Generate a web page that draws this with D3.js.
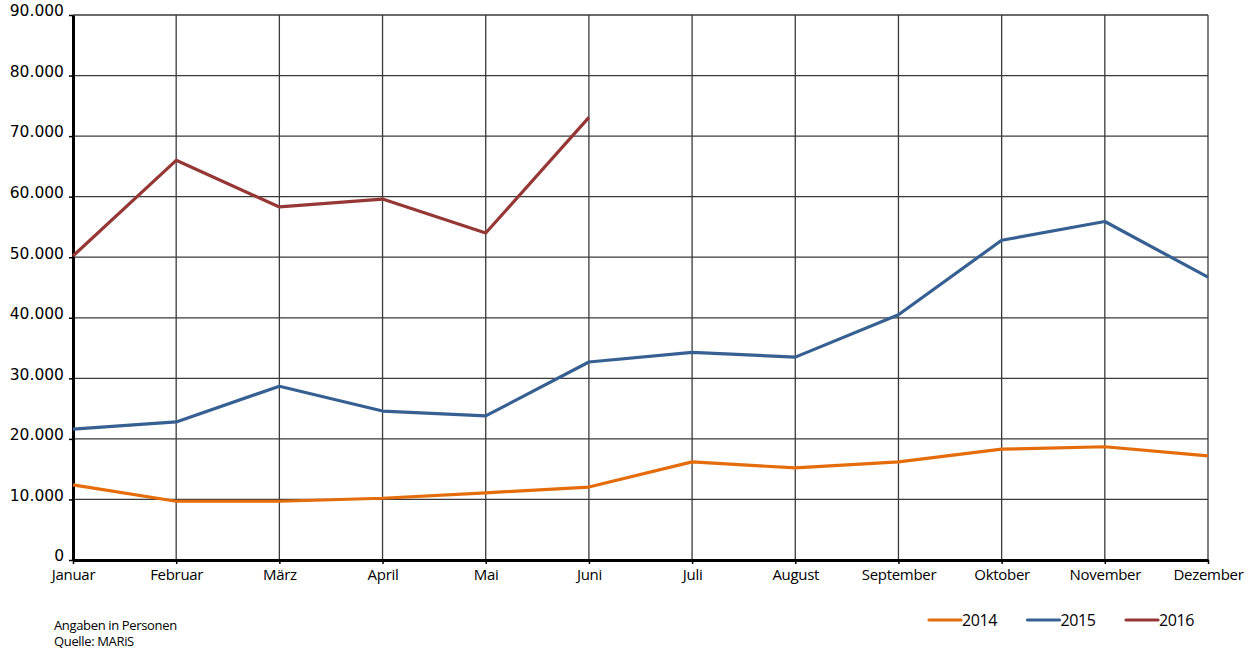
<!DOCTYPE html>
<html>
<head>
<meta charset="utf-8">
<script src="https://cdn.jsdelivr.net/npm/d3@7"></script>
<style>
  body { margin: 0; background: #fff; }
  svg { display: block; }
</style>
</head>
<body>
<svg id="chart"></svg>
<script>
// Monthly values
const months = ["Januar", "Februar", "März", "April", "Mai", "Juni", "Juli", "August", "September", "Oktober", "November", "Dezember"];
const values2014 = [12400, 9700, 9700, 10200, 11100, 12050, 16200, 15200, 16200, 18300, 18700, 17200];
const values2015 = [21600, 22800, 28700, 24600, 23800, 32700, 34300, 33500, 40500, 52800, 55900, 46700];
const values2016 = [50200, 66000, 58300, 59600, 54000, 73100];
const yTicks = [0, 10000, 20000, 30000, 40000, 50000, 60000, 70000, 80000, 90000];
const seriesNames = ["2014", "2015", "2016"];
const seriesColors = ["#e46c0a", "#376092", "#953735"];

const svgWidth = 1259;
const svgHeight = 649;
const margin = { top: 15, right: 51, bottom: 89, left: 73 };
const width = svgWidth - margin.left - margin.right;
const height = svgHeight - margin.top - margin.bottom;

const svg = d3.select("#chart")
    .attr("width", svgWidth)
    .attr("height", svgHeight);

const chart = svg.append("g")
    .attr("transform", `translate(${margin.left},${margin.top})`);

const xScale = d3.scalePoint()
    .domain(months)
    .range([0, width]);

const yScale = d3.scaleLinear()
    .domain([0, 90000])
    .range([height, 0]);

const fmt = d => d === 0 ? "0" : d3.format(",")(d).replace(/,/g, ".");

// gridlines
chart.append("g")
    .selectAll("line")
    .data(yTicks.slice(1))
    .enter().append("line")
    .attr("x1", 0).attr("x2", width)
    .attr("y1", d => yScale(d)).attr("y2", d => yScale(d))
    .attr("stroke", "#3a3a3a").attr("stroke-width", 1.3);

chart.append("g")
    .selectAll("line")
    .data(months.slice(1))
    .enter().append("line")
    .attr("x1", d => xScale(d)).attr("x2", d => xScale(d))
    .attr("y1", 0).attr("y2", height)
    .attr("stroke", "#3a3a3a").attr("stroke-width", 1.3);

// axes
const yAxis = d3.axisLeft(yScale).tickValues(yTicks).tickFormat(fmt).tickSize(4).tickSizeOuter(0);
const yG = chart.append("g").call(yAxis);
yG.select(".domain").attr("stroke", "#000").attr("stroke-width", 3);
yG.selectAll(".tick line").attr("stroke", "#000").attr("stroke-width", 1.5);
yG.selectAll(".tick text")
    .attr("x", -9)
    .attr("dy", "0.05em")
    .attr("fill", "#000")
    .style("font-family", "'DejaVu Sans', Verdana, sans-serif")
    .style("font-size", "15.5px");

const xAxis = d3.axisBottom(xScale).tickSize(4).tickSizeOuter(0);
const xG = chart.append("g")
    .attr("transform", `translate(0,${height})`)
    .call(xAxis);
xG.select(".domain").attr("stroke", "#000").attr("stroke-width", 3);
xG.selectAll(".tick line").attr("stroke", "#000").attr("stroke-width", 1.5);
xG.selectAll(".tick text")
    .attr("y", 9)
    .attr("fill", "#000")
    .style("font-family", "'Open Sans', 'Noto Sans', sans-serif")
    .style("font-size", "15px")
    .style("letter-spacing", "-0.3px");

// lines
const allSeries = [values2014, values2015, values2016];
const line = d3.line()
    .x((d, i) => xScale(months[i]))
    .y(d => yScale(d));

chart.selectAll(".series")
    .data(allSeries)
    .enter().append("path")
    .attr("class", "series")
    .attr("fill", "none")
    .attr("stroke", (d, i) => seriesColors[i])
    .attr("stroke-width", 3.2)
    .attr("stroke-linejoin", "round")
    .attr("d", line);

// legend
const legend = svg.append("g").attr("transform", "translate(929,620)");
const item = legend.selectAll("g")
    .data(seriesNames)
    .enter().append("g")
    .attr("transform", (d, i) => `translate(${i * 98.5},0)`);
item.append("line")
    .attr("x1", 0).attr("x2", 32)
    .attr("stroke", (d, i) => seriesColors[i])
    .attr("stroke-width", 3.2)
    .attr("stroke-linecap", "round");
item.append("text")
    .attr("x", 33)
    .attr("y", 6)
    .style("font-family", "'Open Sans', 'Noto Sans', sans-serif")
    .style("font-size", "16px")
    .style("letter-spacing", "-0.4px")
    .text(d => d);

// source notes
const notes = svg.append("g")
    .style("font-family", "'Open Sans', 'Noto Sans', sans-serif")
    .style("font-size", "13px")
    .style("letter-spacing", "-0.35px");
notes.append("text").attr("x", 54).attr("y", 630).text("Angaben in Personen");
notes.append("text").attr("x", 54).attr("y", 646).text("Quelle: MARiS");
</script>
</body>
</html>
